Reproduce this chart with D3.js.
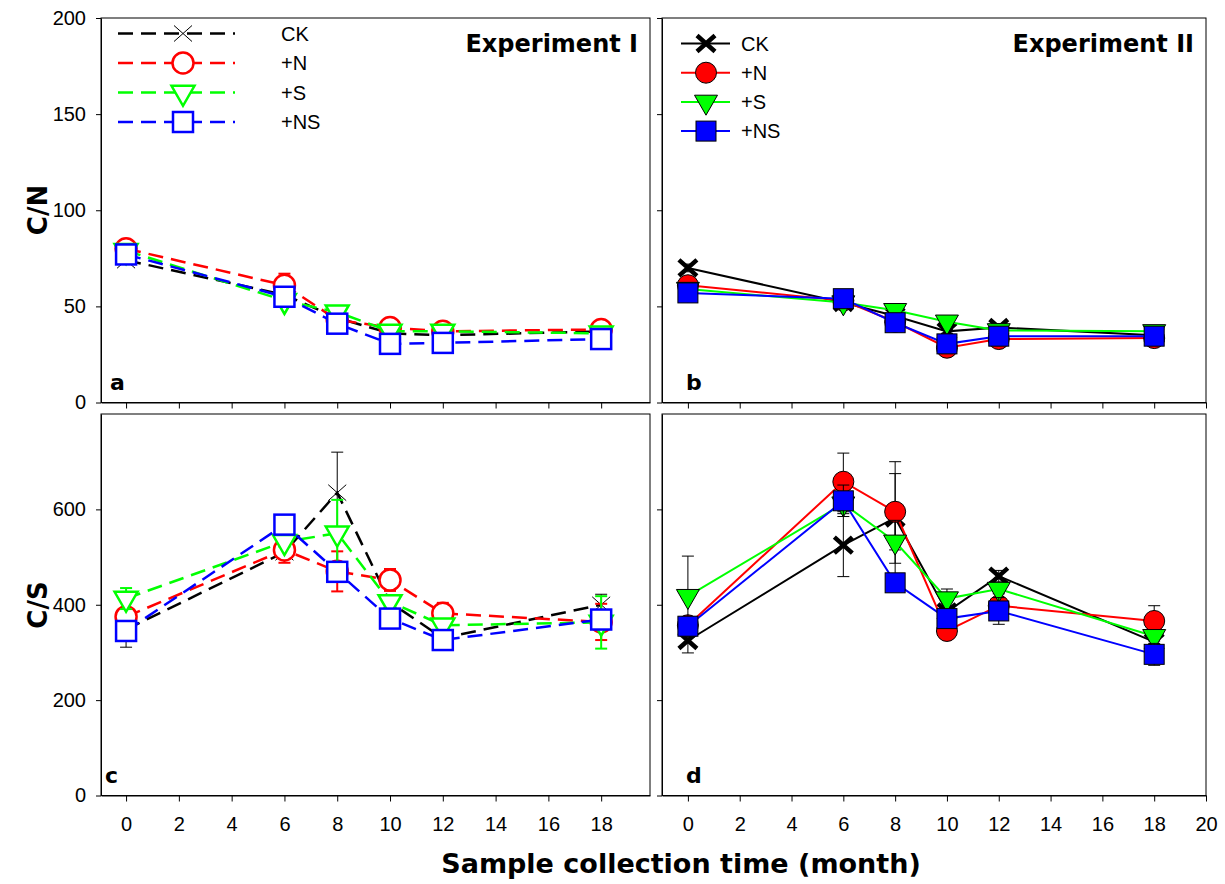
<!DOCTYPE html>
<html>
<head>
<meta charset="utf-8">
<script src="https://cdn.jsdelivr.net/npm/d3@7"></script>
<style>
body { margin: 0; background: #fff; }
svg { display: block; font-family: "Liberation Sans", Arial, sans-serif; }
.axis text { font-size: 20px; fill: #000; }
.axis line, .axis path { stroke: #000; stroke-width: 1px; }
.bold { font-family: "DejaVu Sans", sans-serif; font-weight: bold; }
</style>
</head>
<body>
<svg width="1225" height="884"></svg>
<script>
// sample months and treatments
var months = [0, 6, 8, 10, 12, 18];
var groups = ["CK", "+N", "+S", "+NS"];
var colors = ["#000000", "#ff0000", "#00ff00", "#0000ff"];
var shapes = ["x", "circle", "tri", "square"];

// Experiment I, C/N
var cnI_CK = [74, 56, 44, 36, 35, 37];
var cnI_N  = [80, 61, 43, 39, 37, 38];
var cnI_S  = [79, 53, 47, 37, 37, 36];
var cnI_NS = [77, 55, 41, 30.5, 31, 33];
var cnI_CK_err = [2, 2, 2, 1, 1, 2];
var cnI_N_err  = [2, 6, 2, 2, 2, 1];
var cnI_S_err  = [2, 2, 2, 1, 1, 1];
var cnI_NS_err = [2, 2, 2, 1, 1, 1];

// Experiment II, C/N
var cnII_CK = [70, 52, 45, 37, 39, 35];
var cnII_N  = [61, 53, 42, 28.5, 33, 33.5];
var cnII_S  = [59, 52, 48, 42, 37.5, 37];
var cnII_NS = [57, 54, 41.5, 30.5, 34.5, 34.5];
var cnII_CK_err = [2, 2, 2, 1, 2, 1];
var cnII_N_err  = [2, 2, 2, 1, 1, 1];
var cnII_S_err  = [2, 2, 2, 1, 1, 1];
var cnII_NS_err = [2, 2, 2, 1, 1, 1];

// Experiment I, C/S
var csI_CK = [348, 510, 635, 405, 330, 400];
var csI_N  = [375, 515, 470, 452, 382, 364];
var csI_S  = [413, 532, 550, 406, 357, 363];
var csI_NS = [345, 568, 469, 371, 326, 369];
var csI_CK_err = [37, 10, 85, 10, 10, 22];
var csI_N_err  = [10, 27, 42, 23, 22, 38];
var csI_S_err  = [22, 10, 70, 10, 10, 55];
var csI_NS_err = [10, 10, 10, 8, 10, 10];

// Experiment II, C/S
var csII_CK = [325, 525, 582, 385, 460, 322];
var csII_N  = [357, 658, 595, 345, 398, 366];
var csII_S  = [418, 612, 532, 413, 433, 334];
var csII_NS = [355, 618, 446, 371, 387, 296];
var csII_CK_err = [26, 66, 118, 10, 12, 10];
var csII_N_err  = [10, 60, 80, 10, 10, 32];
var csII_S_err  = [84, 17, 45, 20, 10, 10];
var csII_NS_err = [10, 33, 10, 10, 28, 23];

var cnTicks = [0, 50, 100, 150, 200];
var csTicks = [0, 200, 400, 600];
var leftXTicks = d3.range(0, 19, 2);
var rightXTicks = d3.range(0, 21, 2);

var svg = d3.select("svg");

function drawMarker(g, shape, cx, cy, color, filled) {
	var m = g.append("g").attr("transform", "translate(" + cx + "," + cy + ")");
	if (shape == "x") {
		m.append("path")
			.attr("d", "M-9,-8L9,8M-9,8L9,-8")
			.attr("stroke", "#000")
			.attr("stroke-width", filled ? 4.5 : 1)
			.attr("fill", "none");
		return;
	}
	var el;
	if (shape == "circle") el = m.append("circle").attr("r", 10.5);
	else if (shape == "square") el = m.append("rect").attr("x", -10).attr("y", -10).attr("width", 20).attr("height", 20);
	else el = m.append("path").attr("d", "M-11.5,-6.7L11.5,-6.7L0,13.3Z");
	if (filled) el.attr("fill", color).attr("stroke", "#000").attr("stroke-width", 1);
	else el.attr("fill", "#fff").attr("stroke", color).attr("stroke-width", 2.5);
}

function drawPanel(p) {
	var x = d3.scaleLinear().domain(p.xDomain).range(p.xRange);
	var y = d3.scaleLinear().domain(p.yDomain).range(p.yRange);
	var g = svg.append("g");

	// frame
	g.append("rect")
		.attr("x", p.xRange[0]).attr("y", p.yRange[1])
		.attr("width", p.xRange[1] - p.xRange[0])
		.attr("height", p.yRange[0] - p.yRange[1])
		.attr("fill", "none").attr("stroke", "#000").attr("stroke-width", 1);

	g.append("g")
		.attr("class", "axis")
		.attr("transform", "translate(0," + p.yRange[0] + ")")
		.call(d3.axisBottom(x).tickValues(p.xTicks).tickSize(6).tickSizeOuter(0).tickPadding(15)
			.tickFormat(p.xLabels ? d3.format("d") : ""));

	g.append("g")
		.attr("class", "axis")
		.attr("transform", "translate(" + p.xRange[0] + ",0)")
		.call(d3.axisLeft(y).tickValues(p.yTicks).tickSize(5).tickSizeOuter(0).tickPadding(10)
			.tickFormat(p.yLabels ? d3.format("d") : ""));

	var plot = g.append("g");
	var line = d3.line()
		.x(function(d, i) { return x(months[i]); })
		.y(function(d) { return y(d); });

	p.series.forEach(function(vals, s) {
		var errs = p.errors[s];
		var sg = plot.append("g");
		var ec = p.filled ? "#000" : colors[s];
		var ew = p.filled ? 1 : (s == 0 ? 1 : 2);
		vals.forEach(function(v, i) {
			var cx = x(months[i]);
			sg.append("line")
				.attr("x1", cx).attr("x2", cx)
				.attr("y1", y(v - errs[i])).attr("y2", y(v + errs[i]))
				.attr("stroke", ec).attr("stroke-width", ew);
			[v - errs[i], v + errs[i]].forEach(function(e) {
				sg.append("line")
					.attr("x1", cx - 6).attr("x2", cx + 6)
					.attr("y1", y(e)).attr("y2", y(e))
					.attr("stroke", ec).attr("stroke-width", ew);
			});
		});
		sg.append("path")
			.datum(vals)
			.attr("d", line)
			.attr("fill", "none")
			.attr("stroke", colors[s])
			.attr("stroke-width", p.filled ? 2 : 2.5)
			.attr("stroke-dasharray", p.filled ? null : "15,8");
		vals.forEach(function(v, i) {
			drawMarker(sg, shapes[s], x(months[i]), y(v), colors[s], p.filled);
		});
	});

	// panel letter
	g.append("text")
		.attr("class", "bold")
		.attr("x", p.letterX).attr("y", p.yRange[0] - 13)
		.attr("font-size", 22)
		.text(p.letter);

	if (p.title) {
		g.append("text")
			.attr("class", "bold")
			.attr("x", p.xRange[1] - 12).attr("y", 52)
			.attr("text-anchor", "end")
			.attr("font-size", 24)
			.text(p.title);
	}

	if (p.legend) {
		var L = p.legend;
		groups.forEach(function(name, s) {
			var ly = L.y0 + s * L.dy;
			svg.append("line")
				.attr("x1", L.x1).attr("x2", L.x2)
				.attr("y1", ly).attr("y2", ly)
				.attr("stroke", colors[s]).attr("stroke-width", p.filled ? 2 : 2.5)
				.attr("stroke-dasharray", p.filled ? null : "15,8");
			drawMarker(svg, shapes[s], L.xm, ly, colors[s], p.filled);
			svg.append("text")
				.attr("x", L.xt).attr("y", ly)
				.attr("dy", "0.36em")
				.attr("font-size", 20)
				.text(name);
		});
	}
}

drawPanel({
	xDomain: [-0.95, 19.85], xRange: [101, 650],
	yDomain: [0, 200], yRange: [402.5, 18],
	xTicks: leftXTicks, yTicks: cnTicks, xLabels: false, yLabels: true,
	series: [cnI_CK, cnI_N, cnI_S, cnI_NS],
	errors: [cnI_CK_err, cnI_N_err, cnI_S_err, cnI_NS_err],
	filled: false, letter: "a", letterX: 110, title: "Experiment I",
	legend: { x1: 118, x2: 235, xm: 183, xt: 281, y0: 33.5, dy: 29.5 }
});

drawPanel({
	xDomain: [-1, 20], xRange: [662, 1206],
	yDomain: [0, 200], yRange: [402.5, 18],
	xTicks: rightXTicks, yTicks: cnTicks, xLabels: false, yLabels: false,
	series: [cnII_CK, cnII_N, cnII_S, cnII_NS],
	errors: [cnII_CK_err, cnII_N_err, cnII_S_err, cnII_NS_err],
	filled: true, letter: "b", letterX: 686, title: "Experiment II",
	legend: { x1: 681, x2: 730, xm: 706, xt: 741, y0: 43.5, dy: 29.2 }
});

drawPanel({
	xDomain: [-0.95, 19.85], xRange: [101, 650],
	yDomain: [0, 800], yRange: [795.5, 414],
	xTicks: leftXTicks, yTicks: csTicks, xLabels: true, yLabels: true,
	series: [csI_CK, csI_N, csI_S, csI_NS],
	errors: [csI_CK_err, csI_N_err, csI_S_err, csI_NS_err],
	filled: false, letter: "c", letterX: 105
});

drawPanel({
	xDomain: [-1, 20], xRange: [662, 1206],
	yDomain: [0, 800], yRange: [795.5, 414],
	xTicks: rightXTicks, yTicks: csTicks, xLabels: true, yLabels: false,
	series: [csII_CK, csII_N, csII_S, csII_NS],
	errors: [csII_CK_err, csII_N_err, csII_S_err, csII_NS_err],
	filled: true, letter: "d", letterX: 686
});

// axis titles
svg.append("text")
	.attr("class", "bold")
	.attr("transform", "translate(47,210) rotate(-90)")
	.attr("text-anchor", "middle")
	.attr("font-size", 26)
	.text("C/N");

svg.append("text")
	.attr("class", "bold")
	.attr("transform", "translate(47,605) rotate(-90)")
	.attr("text-anchor", "middle")
	.attr("font-size", 26)
	.text("C/S");

svg.append("text")
	.attr("class", "bold")
	.attr("x", 681).attr("y", 873)
	.attr("text-anchor", "middle")
	.attr("font-size", 27)
	.text("Sample collection time (month)");
</script>
</body>
</html>
